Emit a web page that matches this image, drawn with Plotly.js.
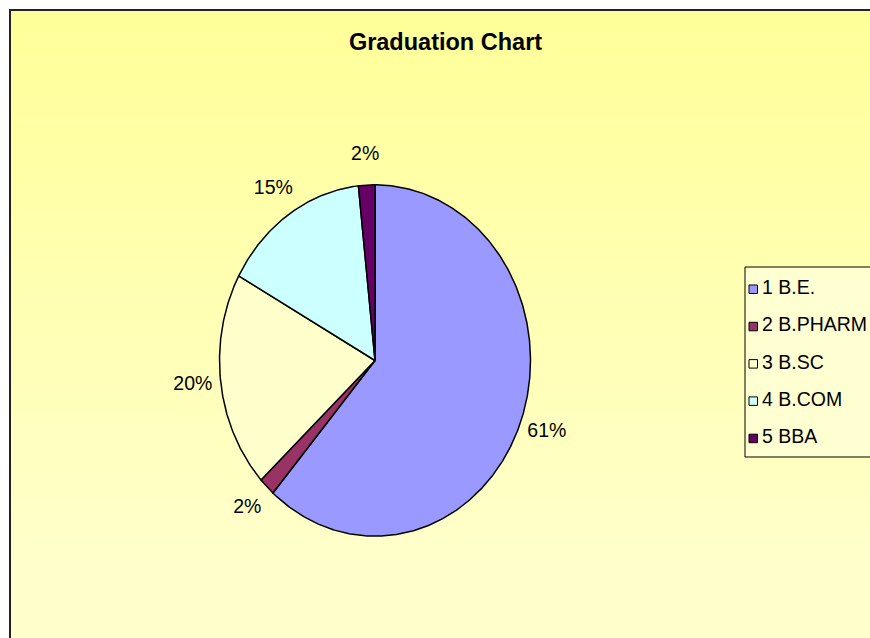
<!DOCTYPE html>
<html>
<head>
<meta charset="utf-8">
<script src="https://cdn.plot.ly/plotly-3.0.1.min.js"></script>
<style>
  html, body { margin: 0; padding: 0; background: #ffffff; }
  #wrap { position: absolute; left: 0; top: 0; width: 870px; height: 638px; overflow: hidden; }
  #frame { position: absolute; left: 11px; top: 11px; width: 859px; height: 627px;
           background: linear-gradient(to bottom, #FFFF99 0px, #FFFFCC 560px, #FFFFCC 627px); }
  #lineL { position: absolute; left: 9px; top: 9px; width: 2px; height: 629px; background: #222; }
  #lineT { position: absolute; left: 9px; top: 9px; width: 861px; height: 2px; background: #222; }
  #chart { position: absolute; left: 0; top: 0; width: 880px; height: 648px; }
</style>
</head>
<body>
<div id="wrap">
<div id="frame"></div>
<div id="lineL"></div>
<div id="lineT"></div>
<div id="chart"></div>
</div>
<script>
// ---- data ----
const categories = ['1 B.E.', '2 B.PHARM', '3 B.SC', '4 B.COM', '5 BBA'];
const shares = [61.4, 1.7, 19.9, 15.3, 1.7];
const sliceColors = ['#9999FF', '#993366', '#FFFFCC', '#CCFFFF', '#660066'];
const chartTitle = 'Graduation Chart';

// ---- layout geometry (pixels) ----
const W = 880, H = 648;
const M = { l: 64, r: 194, t: 97, b: 24 };
const plotW = W - M.l - M.r, plotH = H - M.t - M.b;
const xr = [-2, 2], yr = [-1.5, 1.5];
function pxX(px) { return (px - M.l) / plotW; }
function pxY(py) { return 1 - (py - M.t) / plotH; }

const total = shares.reduce((a, b) => a + b, 0);
const traces = [];
const labelX = [], labelY = [], labelT = [];
let cum = 0;
shares.forEach((v, i) => {
  const a0 = cum / total * 360;
  cum += v;
  const a1 = cum / total * 360;
  const xs = [0], ys = [0];
  const steps = Math.max(2, Math.ceil((a1 - a0) / 0.5));
  for (let k = 0; k <= steps; k++) {
    const a = (a0 + (a1 - a0) * k / steps) * Math.PI / 180;
    xs.push(Math.sin(a)); ys.push(Math.cos(a));
  }
  xs.push(0); ys.push(0);
  traces.push({
    type: 'scatter', mode: 'lines', x: xs, y: ys, fill: 'toself',
    fillcolor: sliceColors[i], line: { color: '#000000', width: 1.5 },
    hoverinfo: 'skip', showlegend: false
  });
  const am = (a0 + a1) / 2 * Math.PI / 180;
  labelX.push(1.18 * Math.sin(am));
  labelY.push(1.17 * Math.cos(am));
  labelT.push(Math.round(v / total * 100) + '%');
});
traces.push({
  type: 'scatter', mode: 'text', x: labelX, y: labelY, text: labelT,
  textposition: 'middle center', cliponaxis: false,
  textfont: { family: 'Liberation Sans, Arial, sans-serif', size: 19.5, color: '#000000' },
  hoverinfo: 'skip', showlegend: false
});

// ---- legend (shapes + annotations) ----
const shapes = [{
  type: 'rect', xref: 'paper', yref: 'paper',
  x0: pxX(745), x1: pxX(900), y0: pxY(457), y1: pxY(267),
  line: { color: '#000000', width: 1 }, fillcolor: '#FFFFD2', layer: 'below'
}];
const annotations = [];
categories.forEach((c, i) => {
  const cy = 287 + i * 37.3;
  shapes.push({
    type: 'rect', xref: 'paper', yref: 'paper',
    x0: pxX(749), x1: pxX(757.5), y0: pxY(cy + 6.5), y1: pxY(cy - 2),
    line: { color: '#000000', width: 1 }, fillcolor: sliceColors[i]
  });
  annotations.push({
    xref: 'paper', yref: 'paper', x: pxX(761), y: pxY(cy), xanchor: 'left', yanchor: 'middle',
    text: c, showarrow: false, borderpad: 0,
    font: { family: 'Liberation Sans, Arial, sans-serif', size: 19.5, color: '#000000' }
  });
});

const layout = {
  width: W, height: H, margin: M,
  paper_bgcolor: 'rgba(0,0,0,0)', plot_bgcolor: 'rgba(0,0,0,0)',
  title: {
    text: chartTitle, xref: 'container', yref: 'container',
    x: 445.5 / W, y: 1 - 42 / H, xanchor: 'center', yanchor: 'middle',
    font: { family: 'Liberation Sans, Arial, sans-serif', size: 23.5, weight: 'bold', color: '#000000' }
  },
  xaxis: { range: xr, visible: false, fixedrange: true },
  yaxis: { range: yr, visible: false, fixedrange: true },
  showlegend: false,
  shapes: shapes,
  annotations: annotations
};

Plotly.newPlot('chart', traces, layout, { displayModeBar: false, staticPlot: true });
</script>
</body>
</html>
